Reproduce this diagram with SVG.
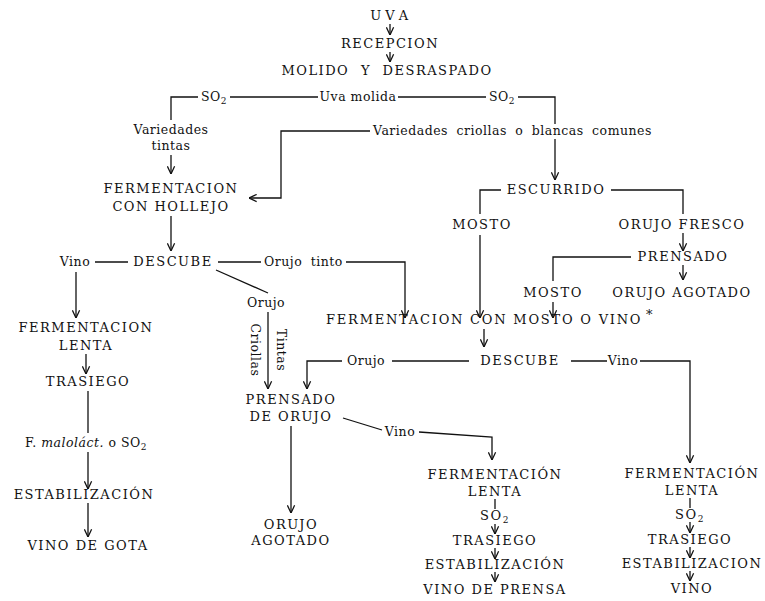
<svg xmlns="http://www.w3.org/2000/svg" width="765" height="601" viewBox="0 0 765 601">
<defs>
<marker id="ah" viewBox="0 0 10 10" refX="9.5" refY="5" markerWidth="9" markerHeight="9" markerUnits="userSpaceOnUse" orient="auto">
<path d="M1,1 L9.5,5 L1,9" fill="none" stroke="#111" stroke-width="1.4"/>
</marker>
<style>
.t{font-family:"DejaVu Serif","Liberation Serif",serif;font-size:13px;fill:#111;letter-spacing:1.5px;text-anchor:middle;}
.l{font-family:"DejaVu Serif","Liberation Serif",serif;font-size:12.5px;fill:#111;letter-spacing:0.5px;text-anchor:middle;}
.s{text-anchor:start;}
.sub{font-size:9px;}
.c{stroke:#111;stroke-width:1.3;fill:none;}
.a{marker-end:url(#ah);}
</style>
</defs>
<rect width="765" height="601" fill="#fff"/>

<g id="connectors">
<path class="c a" d="M390,24 V35"/>
<path class="c a" d="M390,52 V62"/>
<path class="c" d="M171,120 V97 H198"/>
<path class="c" d="M230,97 H318"/>
<path class="c" d="M398,97 H486"/>
<path class="c" d="M518,97 H555 V124"/>
<path class="c a" d="M555,139 V180"/>
<path class="c a" d="M171,155 V174"/>
<path class="c a" d="M370,131 H281 V198 H249"/>
<path class="c a" d="M171,216 V251"/>
<path class="c" d="M480,214 V190 H501"/>
<path class="c" d="M611,190 H683 V214"/>
<path class="c a" d="M480,235 V318"/>
<path class="c a" d="M683,233 V251"/>
<path class="c" d="M553,281 V257 H631"/>
<path class="c a" d="M683,265 V280"/>
<path class="c a" d="M553,302 V318"/>
<path class="c" d="M95,262 H128"/>
<path class="c" d="M218,262 H261"/>
<path class="c a" d="M346,262 H405 V318"/>
<path class="c a" d="M76,272 V318"/>
<path class="c" d="M216,270 L268,293"/>
<path class="c a" d="M268,312 V389"/>
<path class="c a" d="M484,329 V347"/>
<path class="c a" d="M342,361 H307 V389"/>
<path class="c" d="M392,361 H469"/>
<path class="c" d="M571,361 H607"/>
<path class="c a" d="M640,361 H690 V463"/>
<path class="c" d="M343,418 L382,430"/>
<path class="c a" d="M419,432 L492,437 V460"/>
<path class="c a" d="M291,426 V513"/>
<path class="c a" d="M86,354 V374"/>
<path class="c" d="M88,391 V433"/>
<path class="c a" d="M88,452 V489"/>
<path class="c a" d="M88,503 V537"/>
<path class="c" d="M495,499 V509"/>
<path class="c a" d="M495,524 V534"/>
<path class="c a" d="M495,548 V559"/>
<path class="c a" d="M495,572 V582"/>
<path class="c" d="M690,498 V508"/>
<path class="c a" d="M690,522 V533"/>
<path class="c a" d="M690,547 V558"/>
<path class="c a" d="M690,571 V581"/>
</g>

<g id="uva"><text class="t" x="390" y="20" word-spacing="-3">U V A</text></g>
<g id="recepcion"><text class="t" x="390" y="48">RECEPCION</text></g>
<g id="molido"><text class="t" x="387" y="75" word-spacing="6">MOLIDO Y DESRASPADO</text></g>
<g id="so2-left"><text class="l s" x="201" y="101">SO<tspan class="sub" dy="3">2</tspan></text></g>
<g id="uva-molida"><text class="l" x="358" y="101">Uva molida</text></g>
<g id="so2-right"><text class="l s" x="489" y="101">SO<tspan class="sub" dy="3">2</tspan></text></g>
<g id="variedades-tintas"><text class="l" x="171" y="134">Variedades</text><text class="l" x="171" y="150">tintas</text></g>
<g id="variedades-criollas"><text class="l s" x="373" y="135" word-spacing="4">Variedades criollas o blancas comunes</text></g>
<g id="ferm-hollejo"><text class="t" x="171" y="193">FERMENTACION</text><text class="t" x="171" y="211">CON HOLLEJO</text></g>
<g id="escurrido"><text class="t" x="556" y="194">ESCURRIDO</text></g>
<g id="mosto1"><text class="t" x="482" y="229">MOSTO</text></g>
<g id="orujo-fresco"><text class="t" x="682" y="229">ORUJO FRESCO</text></g>
<g id="prensado"><text class="t" x="683" y="261">PRENSADO</text></g>
<g id="mosto2"><text class="t" x="553" y="297">MOSTO</text></g>
<g id="orujo-agotado1"><text class="t" x="682" y="297">ORUJO AGOTADO</text></g>
<g id="descube1"><text class="l" x="75" y="266">Vino</text><text class="t" x="173" y="266">DESCUBE</text><text class="l s" x="264" y="266" word-spacing="4">Orujo tinto</text></g>
<g id="orujo-mid"><text class="l" x="266" y="307">Orujo</text>
<text class="l" transform="translate(255,350) rotate(90)" y="4">Criollas</text>
<text class="l" transform="translate(281,350) rotate(90)" y="4">Tintas</text></g>
<g id="ferm-mosto"><text class="t s" x="326" y="324" textLength="316" lengthAdjust="spacing">FERMENTACION CON MOSTO O VINO</text><text class="t s" x="646" y="319" font-size="8">*</text></g>
<g id="descube2"><text class="l" x="366" y="365">Orujo</text><text class="t" x="520" y="365">DESCUBE</text><text class="l" x="623" y="365">Vino</text></g>
<g id="ferm-lenta-left"><text class="t" x="86" y="332">FERMENTACION</text><text class="t" x="86" y="350">LENTA</text></g>
<g id="trasiego-left"><text class="t" x="88" y="386">TRASIEGO</text></g>
<g id="malolact"><text class="l" x="86" y="447">F. <tspan font-style="italic">maloláct.</tspan> o SO<tspan class="sub" dy="3">2</tspan></text></g>
<g id="estab-left"><text class="t" x="84" y="499">ESTABILIZACIÓN</text></g>
<g id="vino-gota"><text class="t" x="88" y="550">VINO DE GOTA</text></g>
<g id="prensado-orujo"><text class="t" x="291" y="404">PRENSADO</text><text class="t" x="291" y="421">DE ORUJO</text></g>
<g id="vino-mid"><text class="l" x="400" y="436">Vino</text></g>
<g id="orujo-agotado2"><text class="t" x="291" y="529">ORUJO</text><text class="t" x="291" y="545">AGOTADO</text></g>
<g id="ferm-lenta-mid"><text class="t" x="495" y="479">FERMENTACIÓN</text><text class="t" x="495" y="496">LENTA</text></g>
<g id="so2-mid"><text class="t" x="495" y="520">SO<tspan class="sub" dy="3">2</tspan></text></g>
<g id="trasiego-mid"><text class="t" x="495" y="545">TRASIEGO</text></g>
<g id="estab-mid"><text class="t" x="495" y="569">ESTABILIZACIÓN</text></g>
<g id="vino-prensa"><text class="t" x="495" y="594">VINO DE PRENSA</text></g>
<g id="ferm-lenta-right"><text class="t" x="692" y="478">FERMENTACIÓN</text><text class="t" x="692" y="495">LENTA</text></g>
<g id="so2-right2"><text class="t" x="690" y="519">SO<tspan class="sub" dy="3">2</tspan></text></g>
<g id="trasiego-right"><text class="t" x="690" y="544">TRASIEGO</text></g>
<g id="estab-right"><text class="t" x="692" y="568">ESTABILIZACION</text></g>
<g id="vino-right"><text class="t" x="692" y="593">VINO</text></g>
</svg>
